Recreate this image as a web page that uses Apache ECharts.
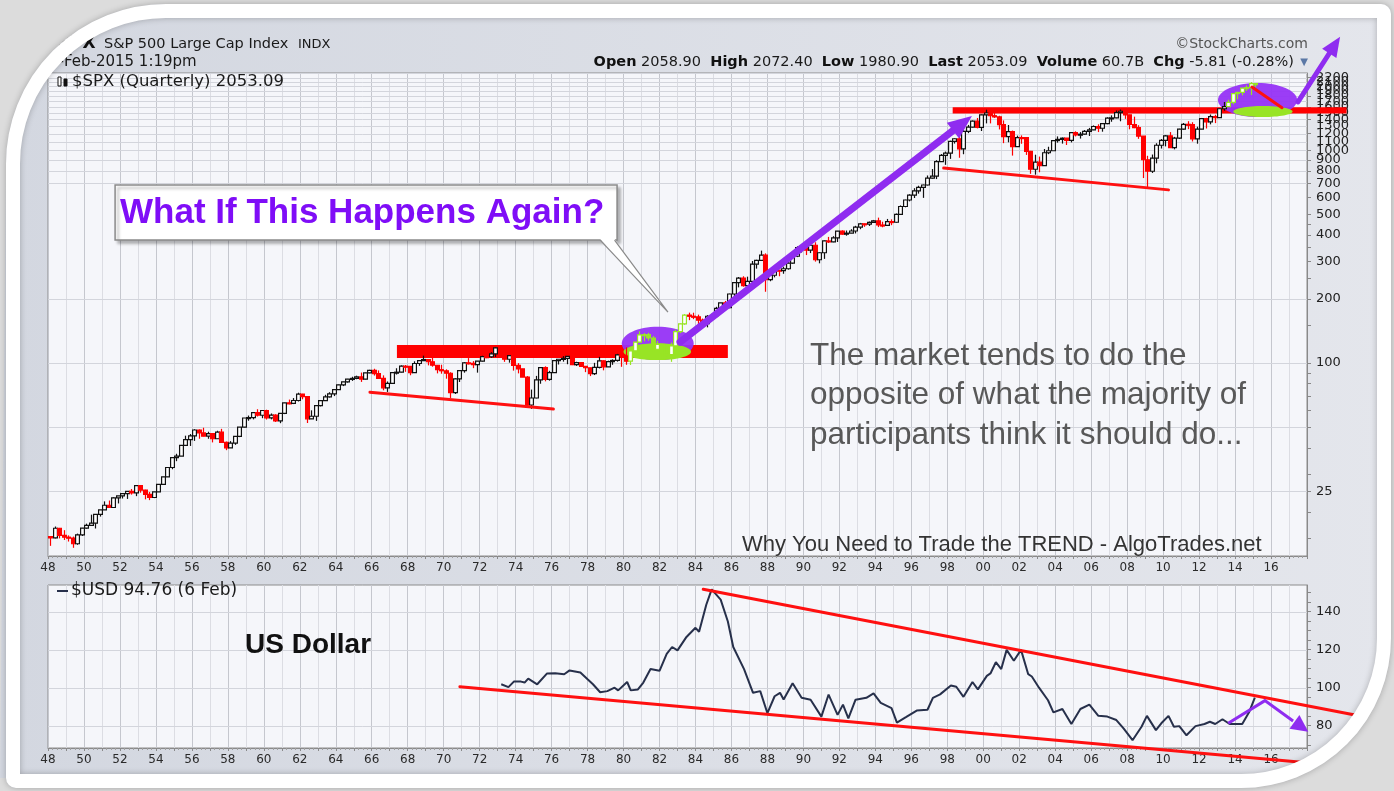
<!DOCTYPE html>
<html>
<head>
<meta charset="utf-8">
<script src="https://cdn.jsdelivr.net/npm/echarts@6/dist/echarts.min.js"></script>
<style>
  html, body { margin: 0; padding: 0; background: #dedede; }
  #main { width: 1394px; height: 791px; }
</style>
</head>
<body>
<div id="main"></div>
<script>
// S&P 500 quarterly candles from 1948 Q1: [open, high, low, close]
var START_YEAR = 1948;
var spxCandles = [
  [15.30,15.4,13.84,15.08],[15.08,17.06,15.0,16.74],[16.74,16.8,15.0,15.49],[15.49,16.4,14.75,15.20], // 48
  [15.20,15.5,14.5,15.06],[15.06,15.3,13.55,14.16],[14.16,15.8,14.0,15.58],[15.58,16.8,15.4,16.76],
  [16.76,17.6,16.65,17.29],[17.29,19.4,17.2,17.69],[17.69,19.5,16.7,19.45],[19.45,20.4,19.0,20.41], // 50
  [20.41,22.4,20.7,21.48],[21.48,22.6,20.9,20.96],[20.96,23.4,20.9,23.26],[23.26,23.5,21.9,23.77],
  [23.77,24.5,23.1,24.37],[24.37,25.0,23.0,24.96],[24.96,25.6,24.1,24.54],[24.54,26.6,23.7,26.57], // 52
  [26.57,26.7,24.6,25.29],[25.29,25.4,22.9,24.14],[24.14,24.8,22.7,23.35],[23.35,24.8,23.2,24.81],
  [24.81,27.0,24.8,26.94],[26.94,29.2,26.9,29.21],[29.21,32.4,29.2,32.31],[32.31,36.0,31.7,35.98], // 54
  [35.98,37.5,34.6,36.58],[36.58,41.0,36.6,41.03],[41.03,45.6,40.8,43.67],[43.67,46.4,40.8,45.48],
  [45.48,48.9,43.1,48.48],[48.48,48.8,44.1,46.97],[46.97,49.7,45.3,45.35],[45.35,47.6,44.1,46.67], // 56
  [46.67,46.7,42.4,44.11],[44.11,48.1,44.0,47.37],[47.37,49.1,42.4,42.42],[42.42,42.8,38.98,39.99],
  [39.99,43.0,40.3,42.10],[42.10,45.4,41.3,45.24],[45.24,50.1,44.9,50.06],[50.06,55.2,49.9,55.21], // 58
  [55.21,56.7,53.6,55.44],[55.44,58.7,54.4,58.47],[58.47,60.7,56.1,56.88],[56.88,60.0,55.1,59.89],
  [59.89,60.4,54.3,55.34],[55.34,58.0,54.4,56.92],[56.92,57.5,52.9,53.52],[53.52,58.1,52.2,58.11], // 60
  [58.11,65.1,57.6,65.06],[65.06,67.4,64.0,64.64],[64.64,68.5,64.2,66.73],[66.73,72.6,66.0,71.55],
  [71.55,71.7,67.6,69.55],[69.55,70.0,52.3,54.75],[54.75,60.0,54.6,56.27],[56.27,63.2,53.5,63.10], // 62
  [63.10,66.6,62.6,66.57],[66.57,71.0,66.4,69.37],[69.37,73.0,68.9,71.70],[71.70,75.0,70.0,75.02],
  [75.02,79.2,74.9,78.98],[78.98,81.7,78.0,81.69],[81.69,84.3,81.0,84.18],[84.18,86.3,82.5,84.75], // 64
  [84.75,87.3,84.0,86.16],[86.16,90.3,81.6,84.12],[84.12,90.1,83.9,89.96],[89.96,93.0,89.6,92.43],
  [92.43,94.1,87.4,89.23],[89.23,92.4,84.7,84.74],[84.74,87.6,74.5,76.56],[76.56,82.0,73.2,80.33], // 66
  [80.33,90.2,80.3,90.20],[90.20,94.6,88.4,90.64],[90.64,97.6,90.4,96.71],[96.71,98.0,91.0,96.47],
  [96.47,96.7,87.7,90.20],[90.20,102.0,89.9,99.58],[99.58,103.0,97.1,102.67],[102.67,108.4,102.6,103.86], // 68
  [103.86,104.0,97.6,101.51],[101.51,106.2,96.2,97.71],[97.71,98.0,89.5,93.12],[93.12,98.3,89.2,92.06],
  [92.06,93.5,84.5,89.63],[89.63,90.6,68.6,72.72],[72.72,84.9,71.6,84.30],[84.30,92.3,81.5,92.15], // 70
  [92.15,101.0,90.2,100.31],[100.31,105.6,98.6,99.70],[99.70,102.2,94.7,98.34],[98.34,102.1,90.2,102.09],
  [102.09,108.3,101.7,107.20],[107.20,110.5,105.5,107.14],[107.14,112.6,105.8,110.55],[110.55,119.1,106.8,118.05], // 72
  [118.05,120.2,108.3,111.52],[111.52,112.7,101.4,104.26],[104.26,109.0,100.5,108.43],[108.43,112.3,92.2,97.55],
  [97.55,100.0,89.5,93.98],[93.98,94.0,86.0,86.00],[86.00,86.9,62.3,63.54],[63.54,75.1,60.96,68.56], // 74
  [68.56,87.1,68.3,83.36],[83.36,95.2,80.0,95.19],[95.19,96.6,82.1,83.87],[83.87,92.0,82.7,90.19],
  [90.19,103.0,90.2,102.77],[102.77,104.3,98.5,104.28],[104.28,107.8,101.6,105.24],[105.24,107.5,98.8,107.46], // 76
  [107.46,107.9,97.9,98.42],[98.42,101.5,97.0,100.48],[100.48,101.0,95.9,96.53],[96.53,96.8,90.7,95.10],
  [95.10,95.2,86.9,89.21],[89.21,100.3,87.9,95.53],[95.53,107.0,94.4,102.54],[102.54,103.0,92.5,96.11], // 78
  [96.11,102.7,96.0,101.59],[101.59,104.2,98.2,102.91],[102.91,110.5,101.6,109.32],[109.32,111.3,96.1,107.94],
  [107.94,118.6,98.2,102.09],[102.09,116.0,98.0,114.24],[114.24,126.0,112.0,125.46],[125.46,141.0,124.8,135.76], // 80
  [135.76,138.4,126.6,136.00],[136.00,138.8,127.4,131.21],[131.21,133.9,112.8,116.18],[116.18,127.3,115.0,122.55],
  [122.55,123.0,104.9,111.96],[111.96,119.3,107.3,109.61],[109.61,125.0,101.4,120.42],[120.42,143.7,119.8,140.64], // 82
  [140.64,153.7,138.3,152.96],[152.96,170.0,151.4,168.11],[168.11,172.7,159.2,166.07],[166.07,172.6,160.9,164.93],
  [164.93,169.0,150.6,159.18],[159.18,162.0,147.3,153.18],[153.18,168.0,147.3,166.10],[166.10,170.4,160.0,167.24], // 84
  [167.24,183.9,163.4,180.66],[180.66,192.0,175.6,191.85],[191.85,196.0,180.6,182.08],[182.08,212.0,181.3,211.28],
  [211.28,239.1,203.5,238.90],[238.90,254.0,227.0,250.84],[250.84,256.0,228.7,231.32],[231.32,254.9,229.9,242.17], // 86
  [242.17,301.9,242.2,291.70],[291.70,306.0,278.0,304.00],[304.00,337.9,302.0,321.83],[321.83,328.0,216.5,247.08],
  [247.08,271.0,242.6,258.89],[258.89,275.0,253.0,273.50],[273.50,274.0,256.0,271.91],[271.91,284.0,263.0,277.72], // 88
  [277.72,300.0,275.0,294.87],[294.87,326.0,293.0,317.98],[317.98,354.0,315.0,349.15],[349.15,360.0,331.0,353.40],
  [353.40,360.0,322.0,339.94],[339.94,369.0,329.0,358.02],[358.02,369.8,300.0,306.05],[306.05,332.0,294.5,330.22], // 90
  [330.22,377.0,309.0,375.22],[375.22,392.0,367.0,371.16],[371.16,395.0,370.0,387.86],[387.86,418.0,371.0,417.09],
  [417.09,421.0,401.0,403.69],[403.69,420.0,397.0,408.14],[408.14,426.0,408.0,417.80],[417.80,442.0,407.0,435.71], // 92
  [435.71,456.0,426.0,451.67],[451.67,453.0,437.0,450.53],[450.53,463.0,441.0,458.93],[458.93,471.0,457.0,466.45],
  [466.45,482.9,436.0,445.77],[445.77,462.0,435.0,444.27],[444.27,476.0,442.0,462.71],[462.71,474.0,445.0,459.27], // 94
  [459.27,505.0,457.0,500.71],[500.71,551.0,500.0,544.75],[544.75,586.0,540.0,584.41],[584.41,622.0,576.0,615.93],
  [615.93,664.0,597.0,645.50],[645.50,682.0,626.0,670.63],[670.63,690.0,598.0,687.31],[687.31,762.0,684.0,740.74], // 96
  [740.74,817.0,737.0,757.12],[757.12,899.0,733.0,885.14],[885.14,961.0,891.0,947.28],[947.28,987.0,855.0,970.43],
  [970.43,1110.0,912.0,1101.75],[1101.75,1139.0,1076.0,1133.84],[1133.84,1190.0,923.0,1017.01],[1017.01,1245.0,959.0,1229.23], // 98
  [1229.23,1317.0,1205.0,1286.37],[1286.37,1382.0,1281.0,1372.71],[1372.71,1420.0,1268.0,1282.71],[1282.71,1475.0,1233.0,1469.25],
  [1469.25,1553.0,1339.0,1498.58],[1498.58,1527.0,1339.0,1454.60],[1454.60,1530.0,1421.0,1436.51],[1436.51,1454.0,1254.0,1320.28], // 00
  [1320.28,1383.0,1081.0,1160.33],[1160.33,1316.0,1091.0,1224.42],[1224.42,1239.0,944.8,1040.94],[1040.94,1173.0,1038.0,1148.08],
  [1148.08,1176.0,1074.0,1147.39],[1147.39,1147.0,952.0,989.82],[989.82,994.0,775.7,815.28],[815.28,954.0,768.6,879.82], // 02
  [879.82,935.0,788.9,848.18],[848.18,1015.0,847.0,974.50],[974.50,1040.0,960.0,995.97],[995.97,1112.0,1018.0,1111.92],
  [1111.92,1163.0,1087.0,1126.21],[1126.21,1150.0,1076.0,1140.84],[1140.84,1140.8,1060.0,1114.58],[1114.58,1217.0,1090.0,1211.92], // 04
  [1211.92,1229.0,1163.0,1180.59],[1180.59,1219.0,1136.0,1191.33],[1191.33,1246.0,1183.0,1228.81],[1228.81,1275.0,1168.0,1248.29],
  [1248.29,1310.0,1245.0,1294.83],[1294.83,1326.0,1219.0,1270.20],[1270.20,1340.0,1224.0,1335.85],[1335.85,1431.0,1327.0,1418.30], // 06
  [1418.30,1461.0,1363.0,1420.86],[1420.86,1540.0,1416.0,1503.35],[1503.35,1556.0,1370.0,1526.75],[1526.75,1576.0,1406.0,1468.36],
  [1468.36,1471.0,1256.0,1322.70],[1322.70,1440.0,1272.0,1280.00],[1280.00,1313.0,1133.0,1166.36],[1166.36,1167.0,741.0,903.25], // 08
  [903.25,943.0,666.8,797.87],[797.87,956.0,783.0,919.32],[919.32,1080.0,869.0,1057.08],[1057.08,1130.0,1020.0,1115.10],
  [1115.10,1180.0,1044.0,1169.43],[1169.43,1219.0,1028.0,1030.71],[1030.71,1157.0,1010.9,1141.20],[1141.20,1263.0,1131.0,1257.64], // 10
  [1257.64,1344.0,1249.0,1325.83],[1325.83,1371.0,1258.0,1320.64],[1320.64,1356.0,1101.0,1131.42],[1131.42,1292.0,1074.8,1257.60],
  [1257.60,1420.0,1258.0,1408.47],[1408.47,1422.0,1267.0,1362.16],[1362.16,1474.0,1325.0,1440.67],[1440.67,1470.0,1343.0,1426.19], // 12
  [1426.19,1570.0,1426.0,1569.19],[1569.19,1687.0,1536.0,1606.28],[1606.28,1729.9,1604.6,1681.55],[1681.55,1849.4,1646.5,1848.36],
  [1848.36,1884.0,1737.9,1872.34],[1872.34,1968.2,1814.4,1960.23],[1960.23,2019.3,1904.8,1972.29],[1972.29,2093.6,1820.7,2058.90], // 14
  [2058.90,2072.4,1980.9,2053.09]
];

var spxLabelValues = [25, 100, 200, 300, 400, 500, 600, 700, 800, 900, 1000, 1100, 1200, 1300, 1400,
  1500, 1600, 1700, 1800, 1900, 2000, 2100, 2200, 2300];
var spxGridValues = [25, 50, 100, 200, 700, 800, 900, 1000, 1100, 1200, 1300, 1400, 1500, 1600,
  1700, 1800, 1900, 2000, 2100, 2200, 2300];
var spxTickValues = [15, 20, 25, 30, 40, 50, 60, 70, 80, 90, 100, 150, 200, 250, 300, 350, 400, 450,
  500, 600, 700, 800, 900, 1000, 1200, 1400, 1600, 1800, 2000, 2200];

// US Dollar index
var usdYears = [1973.2, 1973.6, 1973.9, 1974.3, 1974.5, 1974.7, 1975.2, 1975.75, 1976.2, 1976.7,
  1977.0, 1977.6, 1978.0, 1978.3, 1978.7, 1979.1, 1979.5, 1979.7, 1980.2, 1980.4,
  1980.8, 1981.1, 1981.5, 1982.0, 1982.4, 1982.7, 1983.0, 1983.5, 1984.0, 1984.2,
  1984.6, 1984.9, 1985.4, 1985.8, 1986.1, 1986.7, 1987.2, 1987.6, 1988.0, 1988.4,
  1988.7, 1988.9, 1989.4, 1989.9, 1990.4, 1991.0, 1991.4, 1991.9, 1992.2, 1992.5,
  1992.9, 1993.5, 1993.9, 1994.3, 1994.9, 1995.2, 1995.7, 1996.3, 1996.9, 1997.2,
  1997.6, 1998.2, 1998.5, 1998.9, 1999.4, 1999.7, 2000.2, 2000.4, 2000.7, 2001.0,
  2001.3, 2001.7, 2002.1, 2002.5, 2002.7, 2003.1, 2003.6, 2003.9, 2004.4, 2004.9,
  2005.4, 2005.9, 2006.4, 2006.9, 2007.4, 2007.8, 2008.3, 2008.8, 2009.1, 2009.6,
  2009.9, 2010.3, 2010.6, 2010.9, 2011.3, 2011.8, 2012.3, 2012.6, 2012.9, 2013.3,
  2013.7, 2014.4, 2014.8, 2015.1];
var usdValues = [101.8, 100.3, 103.2, 103.2, 102.7, 104.8, 101.8, 107.5, 107.6, 107.1,
  109.1, 108.0, 104.4, 101.8, 97.6, 98.2, 100.0, 98.6, 103.0, 98.6,
  99.1, 102.7, 109.8, 108.9, 117.8, 121.4, 119.6, 126.7, 131.5, 129.4,
  143.6, 151.7, 146.3, 134.8, 121.4, 109.8, 97.3, 98.2, 86.6, 95.5,
  97.3, 93.8, 102.3, 94.7, 93.7, 84.8, 96.4, 85.7, 91.1, 83.9,
  93.7, 94.7, 97.0, 92.0, 89.3, 81.6, 84.5, 88.0, 88.4, 94.7,
  96.5, 101.2, 100.5, 95.2, 103.0, 99.1, 106.2, 107.5, 113.4, 109.8,
  119.9, 114.2, 119.9, 107.1, 105.9, 100.0, 93.4, 87.0, 88.8, 80.9,
  88.8, 91.1, 85.2, 84.8, 83.0, 78.6, 72.4, 79.5, 85.2, 77.7,
  81.3, 85.2, 79.5, 79.8, 75.0, 79.8, 80.9, 82.1, 80.9, 83.4,
  80.9, 80.9, 87.5, 94.76];
var usdLabelValues = [80, 100, 120, 140];
var usdTickValues = [70, 75, 80, 85, 90, 95, 100, 105, 110, 115, 120, 125, 130, 135, 140, 145, 150];

// hand-drawn annotations, in data coordinates [year, value]
var resistBar1 = [[1967.4, 121.5], [1985.8, 105.6]];
var supportLine1 = [[1965.9, 73.0], [1976.1, 60.8]];
var resistBar2 = [[1998.3, 1593], [2020.2, 1489]];
var supportLine2 = [[1997.8, 826], [2010.3, 652]];
var ellipse1 = [[1979.9, 148.2], [1983.9, 103.3]];
var limeArea1 = [[1980.0, 124], [1983.75, 103.3]];
var ellipse2 = [[2013.05, 2074], [2017.45, 1434]];
var limeArea2 = [[2013.9, 1617], [2017.2, 1434]];
var redTick2 = [[2014.94, 1986], [2016.61, 1587]];
var arrowUp1 = [[1983.14, 125.5], [1999.37, 1452]];
var arrowUp2 = [[2017.5, 1689], [2019.84, 3424]];
var calloutBox = [[1951.73, 686.6], [1979.64, 378.8]];
var calloutTail = [[1978.7, 378.8], [1979.5, 378.8], [1982.47, 173.7]];
var highlightSpans = [[1980.2, 1983.6], [2013.4, 2016]];
var usdUpper = [[1984.43, 151.8], [2020.67, 85.6]];
var usdLower = [[1970.9, 100.5], [2018.17, 60.4]];
var usdArrow = [[2013.62, 81.3], [2015.66, 93.2], [2018.07, 76.8]];

var PURPLE = '#8f2cf0';
var RED = '#ff1010';
var LIME = '#98e425';
var VERDANA = '"DejaVu Sans", Verdana, sans-serif';
var ARIAL = '"Liberation Sans", Arial, sans-serif';

var chart = echarts.init(document.getElementById('main'));

function yearLabel(v) {
  if (v % 2 !== 0 || v > 2016) return '';
  var s = String(v % 100);
  return s.length < 2 ? '0' + s : s;
}

function inHighlight(x) {
  for (var i = 0; i < highlightSpans.length; i++) {
    if (x >= highlightSpans[i][0] && x <= highlightSpans[i][1]) return true;
  }
  return false;
}

function renderCandle(params, api) {
  var x = api.value(0), o = api.value(1), h = api.value(2), l = api.value(3), c = api.value(4);
  var pO = api.coord([x, o]), pC = api.coord([x, c]);
  var pH = api.coord([x, h]), pL = api.coord([x, l]);
  var w = (api.coord([x + 0.125, c])[0] - api.coord([x - 0.125, c])[0]) * 0.85;
  var up = c >= o;
  var color = inHighlight(x) ? LIME : (up ? '#111' : '#ff0000');
  var top = Math.min(pO[1], pC[1]), bot = Math.max(pO[1], pC[1]);
  var cx = Math.round(pO[0]) + 0.5;
  return {
    type: 'group',
    children: [
      { type: 'line', shape: { x1: cx, y1: pH[1], x2: cx, y2: pL[1] }, style: { stroke: color, lineWidth: 1.2 } },
      { type: 'rect', shape: { x: cx - w / 2, y: top, width: w, height: Math.max(bot - top, 1) },
        style: { fill: up ? '#fff' : color, stroke: color, lineWidth: 1.2 } }
    ]
  };
}

function renderGridLine(params, api) {
  var y = Math.round(api.coord([2000, api.value(0)])[1]) + 0.5;
  var cs = params.coordSys;
  return { type: 'line', shape: { x1: cs.x, y1: y, x2: cs.x + cs.width, y2: y },
    style: { stroke: '#d3d5dc', lineWidth: 1 } };
}

function xAxisFor(grid) {
  return {
    type: 'value', gridIndex: grid, min: 1948, max: 2018, interval: 1,
    axisLine: { show: true, lineStyle: { color: '#8a8a8a' } },
    axisTick: { show: true, length: 3, lineStyle: { color: '#8a8a8a' } },
    minorTick: { show: true, splitNumber: 4, length: 2, lineStyle: { color: '#a0a0a0' } },
    axisLabel: { formatter: yearLabel, color: '#2a2a2a', fontSize: 12, fontFamily: VERDANA, margin: 6,
      showMinLabel: true, showMaxLabel: false },
    splitLine: { show: true, lineStyle: { color: ['#c5c7ce', '#dcdde3'], width: 1 } }
  };
}

chart.setOption({
  animation: false,
  backgroundColor: 'transparent',
  textStyle: { fontFamily: VERDANA },
  grid: [
    { left: 48, right: 87, top: 73, height: 483, show: true, backgroundColor: '#f5f6fa',
      borderColor: '#8c8c8c', borderWidth: 1, outerBoundsMode: 'none' },
    { left: 48, right: 87, top: 585, height: 163, show: true, backgroundColor: '#f5f6fa',
      borderColor: '#8c8c8c', borderWidth: 1, outerBoundsMode: 'none' }
  ],
  xAxis: [xAxisFor(0), xAxisFor(1)],
  yAxis: [
    { type: 'log', gridIndex: 0, position: 'right', min: 12.4, max: 2310, logBase: 10,
      axisLine: { show: true, lineStyle: { color: '#8a8a8a' } },
      axisTick: { show: true, customValues: spxTickValues, length: 4, lineStyle: { color: '#888' } },
      axisLabel: { customValues: spxLabelValues, formatter: function (v) { return String(Math.round(v)); },
        color: '#222', fontSize: 13, fontFamily: VERDANA, margin: 9 },
      splitLine: { show: false }, minorTick: { show: false } },
    { type: 'value', gridIndex: 1, position: 'right', min: 68.3, max: 154,
      axisLine: { show: true, lineStyle: { color: '#8a8a8a' } },
      axisTick: { show: true, customValues: usdTickValues, length: 4, lineStyle: { color: '#888' } },
      axisLabel: { customValues: usdLabelValues, color: '#222', fontSize: 13, fontFamily: VERDANA, margin: 9 },
      splitLine: { show: false } }
  ],
  series: [
    { type: 'custom', name: 'spxGrid', xAxisIndex: 0, yAxisIndex: 0, z: 1, silent: true,
      dimensions: ['level'], encode: { y: 0 },
      data: spxGridValues.map(function (v) { return [v]; }),
      renderItem: renderGridLine },
    { type: 'custom', name: 'usdGrid', xAxisIndex: 1, yAxisIndex: 1, z: 1, silent: true,
      dimensions: ['level'], encode: { y: 0 },
      data: usdLabelValues.map(function (v) { return [v]; }),
      renderItem: renderGridLine },
    { type: 'custom', name: '$SPX', xAxisIndex: 0, yAxisIndex: 0, z: 4,
      dimensions: ['t', 'open', 'high', 'low', 'close'],
      encode: { x: 0, y: [1, 2, 3, 4] },
      data: spxCandles.map(function (d, i) { return [START_YEAR + 0.125 + i * 0.25, d[0], d[1], d[2], d[3]]; }),
      renderItem: renderCandle },
    { type: 'line', name: '$USD', xAxisIndex: 1, yAxisIndex: 1, z: 4,
      showSymbol: false, symbol: 'none',
      lineStyle: { color: '#27304b', width: 2 },
      data: usdYears.map(function (y, i) { return [y, usdValues[i]]; }) }
  ]
});

// ---- annotations placed through the axes ----
function P0(pt) { return chart.convertToPixel({ gridIndex: 0 }, pt); }
function P1(pt) { return chart.convertToPixel({ gridIndex: 1 }, pt); }

function boxOf(pair, conv) {
  var a = conv(pair[0]), b = conv(pair[1]);
  return { x: Math.min(a[0], b[0]), y: Math.min(a[1], b[1]),
    width: Math.abs(b[0] - a[0]), height: Math.abs(b[1] - a[1]) };
}
function ellipseOf(pair, conv, color, z, opacity) {
  var b = boxOf(pair, conv);
  return { type: 'ellipse', z: z, silent: true,
    shape: { cx: b.x + b.width / 2, cy: b.y + b.height / 2, rx: b.width / 2, ry: b.height / 2 },
    style: { fill: color, opacity: opacity } };
}
function segment(pair, conv, color, width, z) {
  var a = conv(pair[0]), b = conv(pair[1]);
  return { type: 'line', z: z, silent: true, shape: { x1: a[0], y1: a[1], x2: b[0], y2: b[1] },
    style: { stroke: color, lineWidth: width, lineCap: 'round' } };
}
function arrowHead(from, tip, len, wid, color, z) {
  var dx = tip[0] - from[0], dy = tip[1] - from[1], d = Math.sqrt(dx * dx + dy * dy);
  var ux = dx / d, uy = dy / d;
  var bx = tip[0] - ux * len, by = tip[1] - uy * len;
  return { type: 'polygon', z: z, silent: true,
    shape: { points: [tip, [bx - uy * wid / 2, by + ux * wid / 2], [bx + uy * wid / 2, by - ux * wid / 2]] },
    style: { fill: color } };
}
function arrow(pair, conv, width, len, wid, color, z) {
  var a = conv(pair[0]), b = conv(pair[1]);
  var dx = b[0] - a[0], dy = b[1] - a[1], d = Math.sqrt(dx * dx + dy * dy);
  var ex = b[0] - dx / d * (len - 2), ey = b[1] - dy / d * (len - 2);
  return [
    { type: 'line', z: z, silent: true, shape: { x1: a[0], y1: a[1], x2: ex, y2: ey },
      style: { stroke: color, lineWidth: width, lineCap: 'round' } },
    arrowHead(a, b, len, wid, color, z)
  ];
}
// outline of the picture frame opening, counter-clockwise, corners sampled as arcs
function roundedOutline(x0, y0, x1, y1, r) {
  var pts = [];
  function arc(cx, cy, rad, a0, a1) {
    for (var k = 0; k <= 16; k++) {
      var a = (a0 + (a1 - a0) * k / 16) * Math.PI / 180;
      pts.push([cx + rad * Math.cos(a), cy + rad * Math.sin(a)]);
    }
  }
  arc(x0 + r[3], y1 - r[3], r[3], 180, 90);
  arc(x1 - r[2], y1 - r[2], r[2], 90, 0);
  arc(x1 - r[1], y0 + r[1], r[1], 0, -90);
  arc(x0 + r[0], y0 + r[0], r[0], -90, -180);
  return pts;
}
function text(str, x, y, font, fill, align, z) {
  return { type: 'text', x: x, y: y, z: z || 6, silent: true,
    style: { text: str, font: font, fill: fill, align: align || 'left', verticalAlign: 'middle' } };
}

var g = [];
// chart background
g.push({ type: 'rect', z: -10, silent: true, shape: { x: 0, y: 0, width: 1394, height: 791 },
  style: { fill: new echarts.graphic.LinearGradient(0, 0, 1, 0, [
    { offset: 0, color: '#d3d7e0' }, { offset: 1, color: '#e4e6ec' }]) } });

// red resistance bars and support lines
g.push({ type: 'rect', z: 2, silent: true, shape: boxOf(resistBar1, P0), style: { fill: '#ff0000' } });
g.push({ type: 'rect', z: 2, silent: true, shape: boxOf(resistBar2, P0), style: { fill: '#ff0000' } });
g.push(segment(supportLine1, P0, RED, 3, 5));
g.push(segment(supportLine2, P0, RED, 3, 5));

// highlight ellipses
g.push(ellipseOf(ellipse1, P0, '#9633f5', 3, 0.95));
g.push(ellipseOf(limeArea1, P0, LIME, 3, 1));
g.push(ellipseOf(ellipse2, P0, '#9633f5', 3, 0.95));
g.push(ellipseOf(limeArea2, P0, LIME, 3, 1));
g.push(segment(redTick2, P0, RED, 3, 5));

// purple arrows
g = g.concat(arrow(arrowUp1, P0, 7, 24, 20, PURPLE, 5));
g = g.concat(arrow(arrowUp2, P0, 5, 20, 17, PURPLE, 5));

// callout box with tail
var cb = boxOf(calloutBox, P0);
g.push({ type: 'rect', z: 6, silent: true, shape: cb,
  style: { fill: '#ffffff', stroke: '#8a8a8a', lineWidth: 1.5,
    shadowBlur: 3, shadowOffsetX: 3, shadowOffsetY: 3, shadowColor: 'rgba(0,0,0,0.3)' } });
var t0 = P0(calloutTail[0]), t1 = P0(calloutTail[1]), t2 = P0(calloutTail[2]);
g.push({ type: 'polygon', z: 7, silent: true,
  shape: { points: [[t0[0], t0[1] - 1], [t1[0], t1[1] - 1], t2] }, style: { fill: '#ffffff' } });
g.push({ type: 'polyline', z: 7, silent: true, shape: { points: [t0, t2, t1] },
  style: { stroke: '#8a8a8a', lineWidth: 1.2, fill: 'none' } });
g.push(text('What If This Happens Again?', cb.x + 5, cb.y + cb.height / 2 + 1,
  'bold 35px ' + ARIAL, '#7f0df7', 'left', 8));

// lower panel channel and arrow
g.push(segment(usdUpper, P1, RED, 3, 5));
g.push(segment(usdLower, P1, RED, 3, 5));
var ua = usdArrow.map(P1);
g.push({ type: 'polyline', z: 6, silent: true,
  shape: { points: [ua[0], ua[1], [ua[2][0] - (ua[2][0] - ua[1][0]) * 0.35, ua[2][1] - (ua[2][1] - ua[1][1]) * 0.35]] },
  style: { stroke: PURPLE, lineWidth: 3, fill: 'none' } });
g.push(arrowHead(ua[1], ua[2], 17, 17, PURPLE, 6));

// commentary text
g.push(text('The market tends to do the', 810, 356, '31.5px ' + ARIAL, '#585858'));
g.push(text('opposite of what the majority of', 810, 395, '31.5px ' + ARIAL, '#585858'));
g.push(text('participants think it should do...', 810, 435, '31.5px ' + ARIAL, '#585858'));
g.push(text('Why You Need to Trade the TREND - AlgoTrades.net', 742, 545, '22px ' + ARIAL, '#333'));
g.push(text('US Dollar', 245, 645, 'bold 28px ' + ARIAL, '#111'));

// legends inside the panels
g.push({ type: 'rect', z: 6, silent: true, shape: { x: 58, y: 77, width: 3, height: 9 },
  style: { fill: '#fff', stroke: '#111', lineWidth: 1 } });
g.push({ type: 'rect', z: 6, silent: true, shape: { x: 64, y: 79, width: 3, height: 7 },
  style: { fill: '#111', stroke: '#111', lineWidth: 1 } });
g.push(text('$SPX (Quarterly) 2053.09', 72, 82, '16.5px ' + VERDANA, '#1a1a1a'));
g.push({ type: 'line', z: 6, silent: true, shape: { x1: 57, y1: 591, x2: 68, y2: 591 },
  style: { stroke: '#27304b', lineWidth: 2 } });
g.push(text('$USD 94.76 (6 Feb)', 71, 591, '17px ' + VERDANA, '#1a1a1a'));

// header
g.push(text('$SPX', 46, 44, 'bold 17px ' + VERDANA, '#111', 'left', 6));
g.push(text('S&P 500 Large Cap Index', 104, 44, '14.5px ' + VERDANA, '#1a1a1a'));
g.push(text('INDX', 298, 45, '13px ' + VERDANA, '#1a1a1a'));
g.push(text('6-Feb-2015 1:19pm', 49, 62, '15px ' + VERDANA, '#1a1a1a'));
g.push(text('\u00a9StockCharts.com', 1308, 44, '14px ' + VERDANA, '#555', 'right'));
g.push({ type: 'text', x: 1294, y: 62, z: 6, silent: true,
  style: { text: '{b|Open} 2058.90  {b|High} 2072.40  {b|Low} 1980.90  {b|Last} 2053.09  {b|Volume} 60.7B  {b|Chg} -5.81 (-0.28%)',
    font: '14.5px ' + VERDANA, fill: '#1a1a1a', align: 'right', verticalAlign: 'middle',
    rich: { b: { fontWeight: 'bold', fontSize: 14.5, fontFamily: VERDANA, fill: '#111' } } } });
g.push(text('\u25bc', 1304, 62, '10px ' + VERDANA, '#5b78a6', 'center'));

// picture frame: page colour outside the opening, white band along its edge
var X0 = 6, Y0 = 4, X1 = 1391, Y1 = 788, R = [160, 10, 150, 10], BAND = 14;
var inner = roundedOutline(X0, Y0, X1, Y1, R);
var outside = [[0, 0], [1394, 0], [1394, 791], [0, 791], [0, inner[0][1]]]
  .concat(inner).concat([[0, inner[0][1]]]);
g.push({ type: 'polygon', z: 50, silent: true, shape: { points: outside }, style: { fill: '#dcdcdc' } });
g.push({ type: 'rect', z: 51, silent: true,
  shape: { x: X0 + BAND / 2, y: Y0 + BAND / 2, width: X1 - X0 - BAND, height: Y1 - Y0 - BAND,
    r: R.map(function (r) { return Math.max(r - BAND / 2, 0); }) },
  style: { fill: 'none', stroke: '#ffffff', lineWidth: BAND,
    shadowBlur: 6, shadowColor: 'rgba(0,0,0,0.25)' } });

chart.setOption({ graphic: g });
</script>
</body>
</html>
